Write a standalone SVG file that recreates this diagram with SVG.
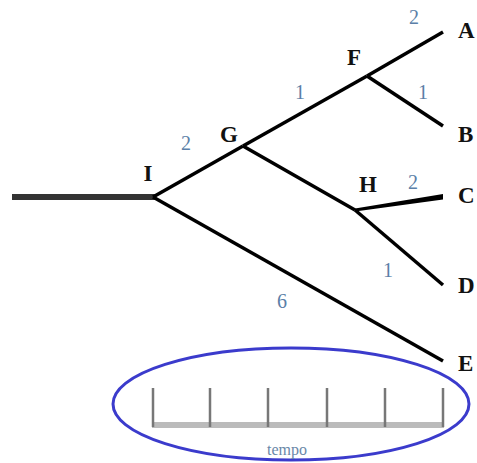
<svg xmlns="http://www.w3.org/2000/svg" width="477" height="463" viewBox="0 0 477 463">
  <style>
    .branch { stroke: #000; stroke-width: 3.5; stroke-linecap: butt; fill: none; }
    .node { font-family: "Liberation Serif", serif; font-weight: bold; font-size: 23px; fill: #111; }
    .len { font-family: "Liberation Serif", serif; font-size: 20px; fill: #5b7fa8; }
    .tick { stroke: #777; stroke-width: 2.5; }
  </style>
  <rect width="477" height="463" fill="#fff"/>

  <!-- branches of the tree -->
  <g id="connectors">
    <line x1="12" y1="197" x2="155" y2="197" stroke="#333" stroke-width="6"/>
    <line class="branch" x1="153" y1="197" x2="243" y2="146"/>
    <line class="branch" x1="153" y1="197" x2="443" y2="361"/>
    <line class="branch" x1="243" y1="146" x2="367" y2="76"/>
    <line class="branch" x1="243" y1="146" x2="355" y2="210"/>
    <line class="branch" x1="367" y1="76" x2="443" y2="32"/>
    <line class="branch" x1="367" y1="76" x2="443" y2="126"/>
    <polygon points="355,208.5 443,194 443,199.5 355,211.5" fill="#000"/>
    <line class="branch" x1="355" y1="210" x2="443" y2="285"/>
  </g>

  <!-- internal nodes -->
  <g id="node-I"><text class="node" x="148" y="181" text-anchor="middle">I</text></g>
  <g id="node-G"><text class="node" x="229" y="142" text-anchor="middle">G</text></g>
  <g id="node-F"><text class="node" x="354" y="65" text-anchor="middle">F</text></g>
  <g id="node-H"><text class="node" x="368" y="192" text-anchor="middle">H</text></g>

  <!-- leaves -->
  <g id="node-A"><text class="node" x="458" y="38">A</text></g>
  <g id="node-B"><text class="node" x="458" y="142">B</text></g>
  <g id="node-C"><text class="node" x="458" y="203">C</text></g>
  <g id="node-D"><text class="node" x="458" y="293">D</text></g>
  <g id="node-E"><text class="node" x="458" y="371">E</text></g>

  <!-- branch lengths -->
  <g id="lengths">
    <text class="len" x="414" y="24" text-anchor="middle">2</text>
    <text class="len" x="300" y="99" text-anchor="middle">1</text>
    <text class="len" x="423" y="99" text-anchor="middle">1</text>
    <text class="len" x="186" y="150" text-anchor="middle">2</text>
    <text class="len" x="413" y="189" text-anchor="middle">2</text>
    <text class="len" x="388" y="277" text-anchor="middle">1</text>
    <text class="len" x="282" y="308" text-anchor="middle">6</text>
  </g>

  <!-- time scale -->
  <g id="time-scale">
    <ellipse cx="291" cy="404" rx="178" ry="56" fill="none" stroke="#3b3bcc" stroke-width="3"/>
    <rect x="152" y="422" width="292" height="6" fill="#bbb"/>
    <line class="tick" x1="153" y1="388" x2="153" y2="427"/>
    <line class="tick" x1="210" y1="388" x2="210" y2="427"/>
    <line class="tick" x1="268" y1="388" x2="268" y2="427" stroke="#aaa"/>
    <line class="tick" x1="327" y1="388" x2="327" y2="427"/>
    <line class="tick" x1="385" y1="388" x2="385" y2="427" stroke="#aaa"/>
    <line class="tick" x1="443" y1="388" x2="443" y2="427"/>
    <text x="287" y="455" text-anchor="middle" font-family="Liberation Serif, serif" font-size="16" fill="#6a88a8">tempo</text>
  </g>
</svg>
